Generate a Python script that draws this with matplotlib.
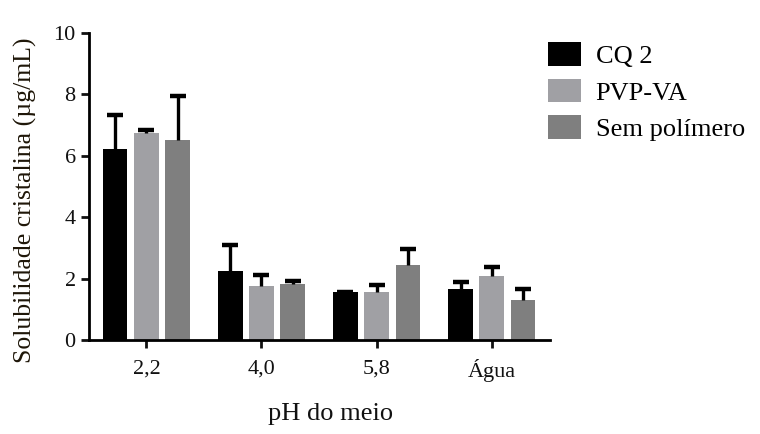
import numpy as np
import matplotlib.pyplot as plt
from matplotlib.patches import Patch

plt.rcParams['font.family'] = ['Liberation Serif', 'DejaVu Serif']

grupos = ['2,2', '4,0', '5,8', 'Água']
series = ['CQ 2', 'PVP-VA', 'Sem polímero']
cq2 = [6.22, 2.25, 1.55, 1.66]
cq2_err = [1.12, 0.85, 0.02, 0.23]
pvpva = [6.75, 1.76, 1.56, 2.07]
pvpva_err = [0.1, 0.35, 0.22, 0.3]
sem_pol = [6.52, 1.83, 2.43, 1.31]
sem_pol_err = [1.43, 0.08, 0.55, 0.36]

cores = ['#000000', '#a0a0a4', '#7f7f7f']
valores = [cq2, pvpva, sem_pol]
erros = [cq2_err, pvpva_err, sem_pol_err]

fig = plt.figure(figsize=(7.6, 4.34), dpi=100)
ax = fig.add_axes([0.117, 0.2166, 0.607, 0.7074])

x = np.arange(len(grupos))
w = 0.21
off = 0.27
for i in range(3):
    pos = x + (i - 1) * off
    v = np.array(valores[i])
    topo = v + np.array(erros[i])
    ax.bar(pos, v, width=w, color=cores[i], zorder=2)
    # only the upper half of the error bar, cap at the top
    ax.vlines(pos, v, topo, color='black', linewidth=2.4, zorder=3)
    ax.plot(pos, topo, linestyle='none', marker='_', markersize=11, mew=3.2, color='black', zorder=3)

ax.set_xlim(-0.5, 3.51)
ax.set_ylim(0, 10)
ax.set_yticks([0, 2, 4, 6, 8, 10])
ax.set_xticks(x)
ax.set_xticklabels(grupos)
for s in ['top', 'right']:
    ax.spines[s].set_visible(False)
for s in ['left', 'bottom']:
    ax.spines[s].set_linewidth(2)
ax.tick_params(axis='both', width=2, length=6, labelsize=16, direction='out', colors='#111111')
ax.tick_params(axis='x', pad=8)

ax.set_ylabel('Solubilidade cristalina (µg/mL)', fontsize=18.5, color='#1e1608')
ax.yaxis.set_label_coords(-0.112, 0.455)
fig.text(0.435, 0.045, 'pH do meio', fontsize=19, ha='center', va='center', color='#111111')

handles = [Patch(facecolor=c) for c in cores]
fig.legend(handles, series, loc='upper left', bbox_to_anchor=(0.69, 0.957), frameon=False,
           fontsize=19, handlelength=1.25, handleheight=1.0, handletextpad=0.55, labelspacing=0.4)

fig.savefig('out.png', dpi=100)
